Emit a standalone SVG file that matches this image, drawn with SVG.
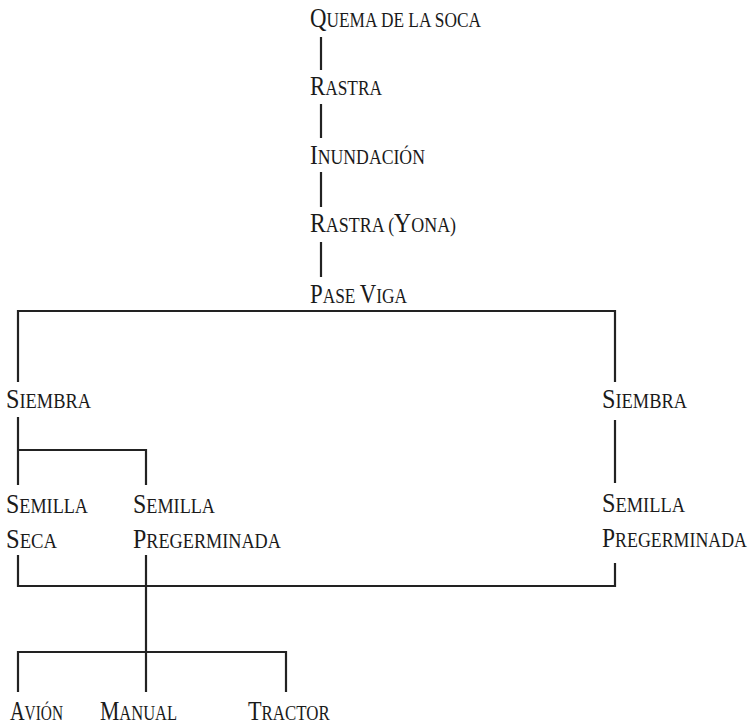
<svg xmlns="http://www.w3.org/2000/svg" width="756" height="727" viewBox="0 0 756 727">
  <style>
    .lbl { font-family: "Liberation Serif", "DejaVu Serif", serif; font-size: 27px; fill: #1a1a1a; }
    .sc { font-size: 20.5px; }
    .wire { fill: none; stroke: #222; stroke-width: 2.2; stroke-linecap: butt; stroke-linejoin: miter; }
  </style>
  <rect width="756" height="727" fill="#ffffff"/>

  <!-- connectors -->
  <g id="connectors" class="wire">
    <!-- preparation chain -->
    <path d="M321,37 V70"/>
    <path d="M321,104 V138"/>
    <path d="M321,172 V207"/>
    <path d="M321,242 V277"/>
    <!-- split after Pase Viga -->
    <path d="M18,382 V311 H615 V382"/>
    <!-- left Siembra branches -->
    <path d="M18,417 V485"/>
    <path d="M18,450 H146 V485"/>
    <!-- right Siembra to seed -->
    <path d="M615,420 V483"/>
    <!-- seeds merge -->
    <path d="M18,555 V586 H615 V563"/>
    <path d="M146,555 V652"/>
    <!-- application methods -->
    <path d="M18,692 V652 H286 V692"/>
    <path d="M146,652 V692"/>
  </g>

  <!-- labels: condensed small caps (horizontal scale per label) -->
  <g id="quema">
    <text class="lbl" transform="translate(310,27) scale(0.846,1)">Q<tspan class="sc">UEMA DE LA SOCA</tspan></text>
  </g>
  <g id="rastra">
    <text class="lbl" transform="translate(310,95) scale(0.845,1)">R<tspan class="sc">ASTRA</tspan></text>
  </g>
  <g id="inundacion">
    <text class="lbl" transform="translate(310,164) scale(0.864,1)">I<tspan class="sc">NUNDACIÓN</tspan></text>
  </g>
  <g id="rastra-yona">
    <text class="lbl" transform="translate(310,232) scale(0.876,1)">R<tspan class="sc">ASTRA (</tspan>Y<tspan class="sc">ONA)</tspan></text>
  </g>
  <g id="pase-viga">
    <text class="lbl" transform="translate(310,303) scale(0.846,1)">P<tspan class="sc">ASE </tspan>V<tspan class="sc">IGA</tspan></text>
  </g>
  <g id="siembra-left">
    <text class="lbl" transform="translate(6,408) scale(0.897,1)">S<tspan class="sc">IEMBRA</tspan></text>
  </g>
  <g id="siembra-right">
    <text class="lbl" transform="translate(602,408) scale(0.897,1)">S<tspan class="sc">IEMBRA</tspan></text>
  </g>
  <g id="semilla-seca">
    <text class="lbl" transform="translate(6,513) scale(0.887,1)">S<tspan class="sc">EMILLA</tspan></text>
    <text class="lbl" transform="translate(6,548) scale(0.91,1)">S<tspan class="sc">ECA</tspan></text>
  </g>
  <g id="semilla-pregerminada-left">
    <text class="lbl" transform="translate(133,513) scale(0.887,1)">S<tspan class="sc">EMILLA</tspan></text>
    <text class="lbl" transform="translate(133,548) scale(0.889,1)">P<tspan class="sc">REGERMINADA</tspan></text>
  </g>
  <g id="semilla-pregerminada-right">
    <text class="lbl" transform="translate(602,512) scale(0.898,1)">S<tspan class="sc">EMILLA</tspan></text>
    <text class="lbl" transform="translate(602,547) scale(0.871,1)">P<tspan class="sc">REGERMINADA</tspan></text>
  </g>
  <g id="avion">
    <text class="lbl" transform="translate(10,720) scale(0.75,1)">A<tspan class="sc">VIÓN</tspan></text>
  </g>
  <g id="manual">
    <text class="lbl" transform="translate(100,720) scale(0.805,1)">M<tspan class="sc">ANUAL</tspan></text>
  </g>
  <g id="tractor">
    <text class="lbl" transform="translate(248,720) scale(0.823,1)">T<tspan class="sc">RACTOR</tspan></text>
  </g>
</svg>
